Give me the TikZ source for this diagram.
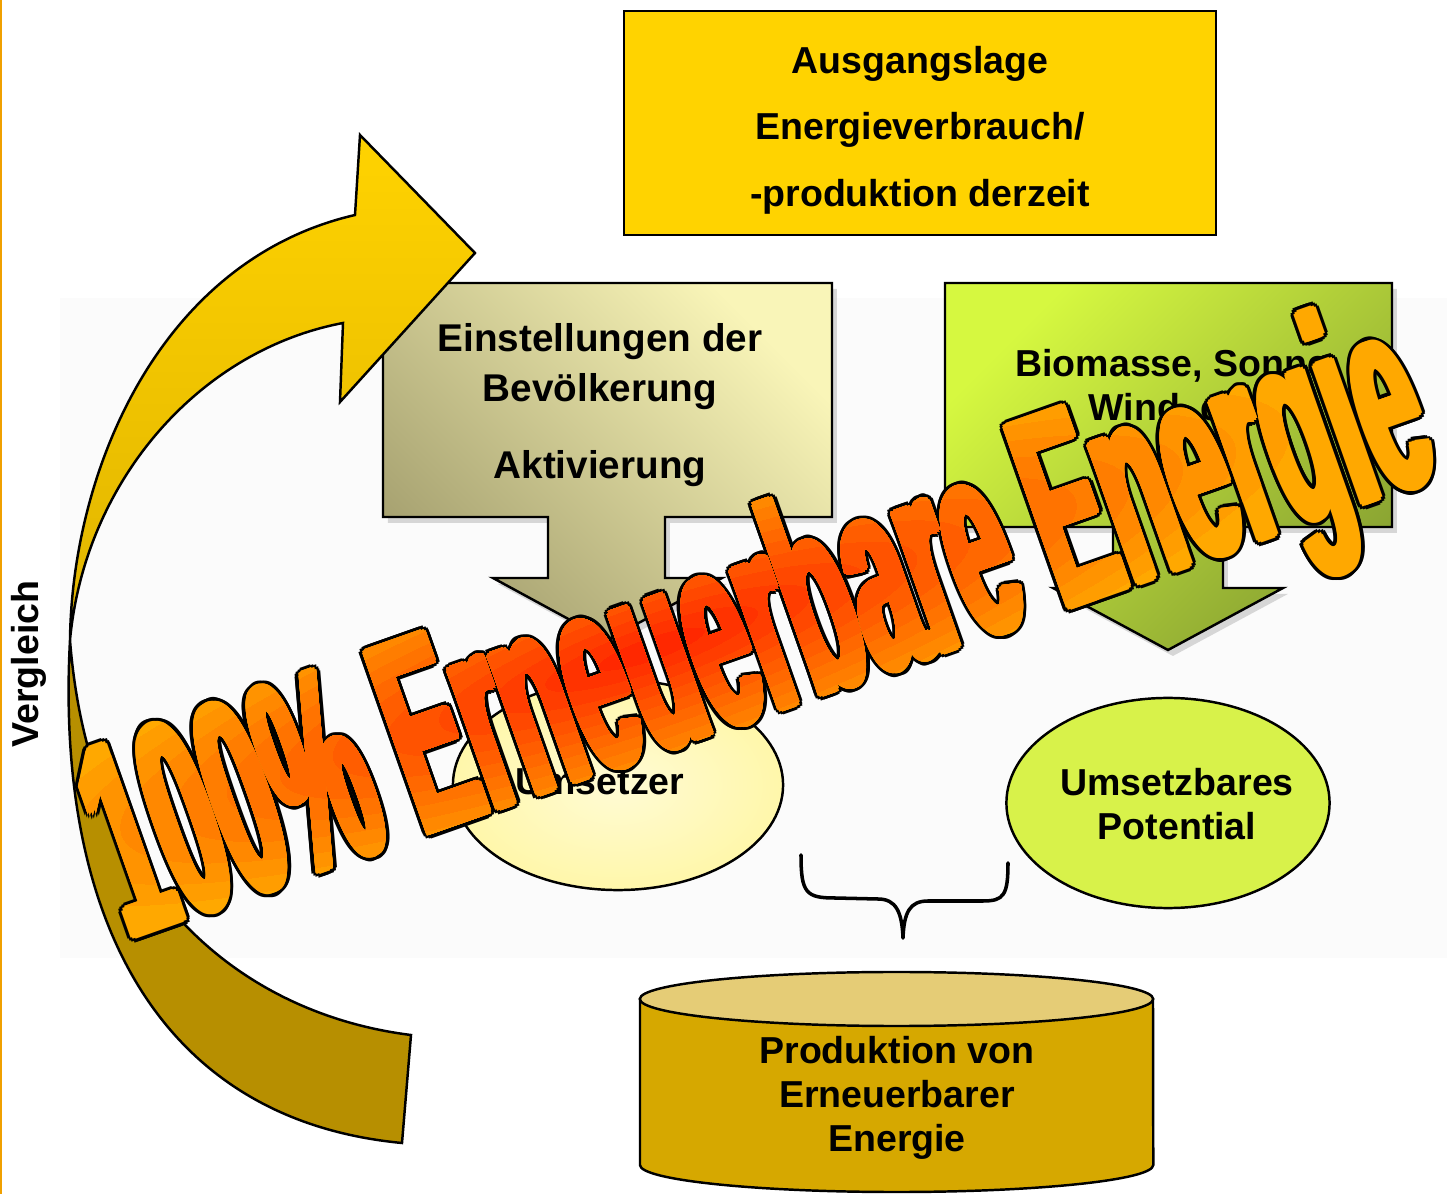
\documentclass[tikz,border=0pt]{standalone}
\usepackage{fontspec}
\setmainfont{Liberation Sans}
\usetikzlibrary{shapes.geometric,shadows}

\definecolor{gold}{RGB}{255,211,0}
\definecolor{goldmid}{RGB}{224,180,0}
\definecolor{golddark}{RGB}{183,143,0}
\definecolor{olivedark}{RGB}{166,161,112}
\definecolor{olivelight}{RGB}{249,245,184}
\definecolor{limelight}{RGB}{214,248,64}
\definecolor{limedark}{RGB}{138,164,50}
\definecolor{paleyellow}{RGB}{255,247,170}
\definecolor{limefill}{RGB}{216,242,74}
\definecolor{tankbody}{RGB}{214,168,0}
\definecolor{tanktop}{RGB}{229,204,118}
\definecolor{waorange}{RGB}{255,168,0}
\definecolor{wared}{RGB}{255,40,0}
\definecolor{frameorange}{RGB}{240,160,0}

\tikzset{
  rim/.style={draw=black, line width=0.7pt},
  boxtext/.style={font=\fontsize{10.67}{12.6}\selectfont\bfseries, align=center, inner sep=0pt},
  boxshadow/.style={drop shadow={shadow xshift=1.4pt, shadow yshift=-1.7pt, fill=black!30, opacity=0.5}},
  wordart/.style={font=\fontsize{28.45}{30}\selectfont\bfseries, anchor=base west, inner sep=0pt, transform shape},
}

\begin{document}
\begin{tikzpicture}[x=0.01cm, y=-0.01cm]
    \useasboundingbox (0,0) rectangle (1447,1194);
    \fill[white] (0,0) rectangle (1447,1194);
    \fill[frameorange] (0,0) rectangle (2,1194);
    % light backdrop of the middle part
    \fill[black!1.5] (60,298) rectangle (1447,958);

    % starting point
    \draw[rim, fill=gold] (624,11) rectangle (1216,235);
    \node[boxtext, font=\fontsize{10.67}{18.9}\selectfont\bfseries] (lage) at (920,130)
        {Ausgangslage\\Energieverbrauch/\\-produktion derzeit};

    % two down arrows
    \draw[rim, boxshadow, top color=olivelight, bottom color=olivedark, shading angle=-45]
        (383,283) -- (832,283) -- (832,517) -- (665,517) -- (665,578) -- (722,578)
        -- (607,640) -- (493,578) -- (548,578) -- (548,517) -- (383,517) -- cycle;
    \node[boxtext, font=\fontsize{11}{14.2}\selectfont\bfseries] (einstellung) at (600,405)
        {Einstellungen der\\Bevölkerung\\[7.7pt]Aktivierung};

    \draw[rim, boxshadow, top color=limelight, bottom color=limedark, shading angle=45]
        (945,283) -- (1392,283) -- (1392,527) -- (1223,527) -- (1223,588) -- (1283,588)
        -- (1168,650) -- (1053,588) -- (1113,588) -- (1113,527) -- (945,527) -- cycle;
    \node[boxtext] (quellen) at (1177,388) {Biomasse, Sonne,\\Wind, etc.};

    % ellipses
    \node[rim, ellipse, inner color=paleyellow!50!white, outer color=paleyellow,
        minimum width=3.3cm, minimum height=2.1cm] (umsetzer) at (618,785) {};
    \node[boxtext] (umsetzertext) at (600,782) {Umsetzer};
    \node[rim, ellipse, fill=limefill, minimum width=3.23cm, minimum height=2.1cm]
        (potential) at (1168,803) {};
    \node[boxtext] (potentialtext) at (1177,804) {Umsetzbares\\Potential};

    % brace
    \draw[line width=1pt, line cap=round, line join=round]
        (801,855) .. controls (801,893) and (806,898) .. (835,898) -- (878,899)
        .. controls (896,899) and (902,912) .. (903,938)
        .. controls (904,912) and (910,901) .. (928,901) -- (983,901)
        .. controls (1004,901) and (1008,895) .. (1008,863);

    % tank
    \draw[rim, fill=tankbody] (640,999) -- (640,1165)
        arc[start angle=180, end angle=360, x radius=2.565cm, y radius=0.27cm]
        -- (1153,999) -- cycle;
    \draw[rim, fill=tanktop] (896.5,999) ellipse [x radius=2.565cm, y radius=0.27cm];
    \node[boxtext] (produktion) at (897,1098) {Produktion von\\Erneuerbarer\\Energie};

    % curved arrow, back side first
    \draw[rim, fill=golddark] (70,640) .. controls (55,920) and (160,1120) .. (402,1143)
        -- (411,1035) .. controls (250,1015) and (90,900) .. (70,640) -- cycle;
    \draw[rim, top color=gold, bottom color=goldmid]
        (70,640) .. controls (72,470) and (160,260) .. (355,215)
        -- (360,135) -- (475,253) -- (340,402) -- (343,323)
        .. controls (200,350) and (85,480) .. (70,640) -- cycle;
    \node[boxtext, rotate=90] (vergleich) at (29,664) {Vergleich};

    % big slanted title, letters thickened by shifted copies:
    % black rim first, then the fill, then the red core in rings
    \begin{scope}[shift={(128,939)}, rotate=19.4]
      \begin{scope}[xscale=1.1, yscale=2.78]
        \foreach \a [count=\k] in {0,22.5,...,337.5}
          \node[wordart, text=black] (warim\k) at ({7.3/1.1*cos(\a)},{6.3/2.78*sin(\a)})
            {100\% Erneuerbare Energie};
        \foreach \a [count=\k] in {0,45,...,315}
          \node[wordart, text=waorange] (wafill\k) at ({4/1.1*cos(\a)},{3/2.78*sin(\a)})
            {100\% Erneuerbare Energie};
        \node[wordart, text=waorange] (wordart) at (0,0) {100\% Erneuerbare Energie};
      \end{scope}
      \foreach \i in {1,...,12} {
        \pgfmathsetmacro{\t}{1-\i/13}
        \pgfmathsetmacro{\p}{100*\i/12}
        \colorlet{waring}{wared!\p!waorange}
        \begin{scope}
          \clip (590,-100) ellipse [x radius={7.3cm*\t}, y radius={1.45cm*\t}];
          \begin{scope}[xscale=1.1, yscale=2.78]
            \node[wordart, text=waring] (waring\i) at (0,0) {100\% Erneuerbare Energie};
            \foreach \a [count=\k] in {0,45,...,315}
              \node[wordart, text=waring] (waring\i-\k) at ({4/1.1*cos(\a)},{3/2.78*sin(\a)})
                {100\% Erneuerbare Energie};
          \end{scope}
        \end{scope}
      }
    \end{scope}
\end{tikzpicture}
\end{document}
